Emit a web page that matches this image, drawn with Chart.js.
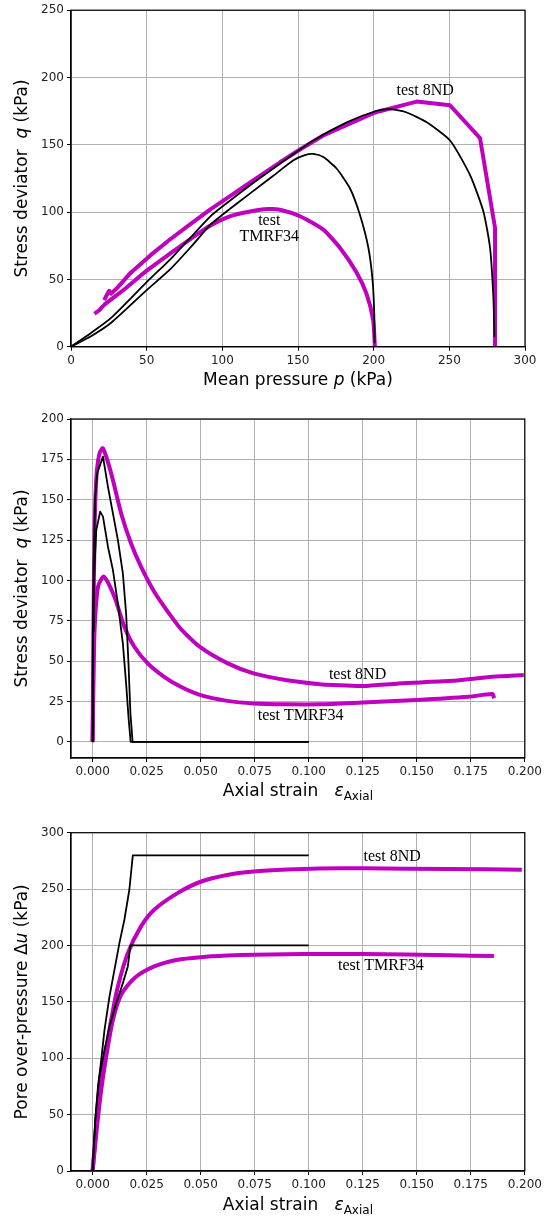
<!DOCTYPE html>
<html lang="en">
<head>
<meta charset="UTF-8">
<title>Undrained triaxial tests</title>
<script src="https://cdn.jsdelivr.net/npm/chart.js@4.4.0/dist/chart.umd.min.js"></script>
<style>
  body { margin: 0; background: #fff; }
  canvas { position: absolute; left: 0; }
</style>
</head>
<body>
<canvas id="c1" width="545" height="400" style="top:0px"></canvas>
<canvas id="c2" width="545" height="410" style="top:400px"></canvas>
<canvas id="c3" width="545" height="414" style="top:810px"></canvas>

<script>
// ---- panel 1 : q versus p ----
var pTicks = [0, 50, 100, 150, 200, 250, 300];
var qTicks1 = [0, 50, 100, 150, 200, 250];

var p8ndExp = [21.9, 23.5, 25.2, 26.5, 30, 39.5, 52.6, 65.8, 78.9, 92.1, 105.3, 118.4, 138.1, 151.3, 166.7, 200.9, 228.4, 250.4, 270.3, 280.2, 280.2];
var q8ndExp = [34.6, 38, 41.5, 39.5, 43, 55, 68, 80, 91, 102, 112, 122, 137, 146.5, 156.9, 174, 182.1, 179.4, 154.9, 88.2, 0];

var pTmrfExp = [15.4, 18, 21.9, 35.1, 50, 65.8, 78.9, 92.1, 105.3, 118.4, 130, 138.1, 151.3, 166.7, 177.7, 188.7, 195.3, 199.7, 200.8];
var qTmrfExp = [24.5, 26.5, 31, 42.5, 56.5, 69.5, 80, 90, 97, 100.5, 102.3, 101.8, 96.9, 87, 73.5, 55.1, 39.2, 19.6, 0];

var p8ndSim = [0, 13.2, 26.3, 50, 65.8, 78.9, 92.1, 100, 118.4, 138.1, 160.1, 182.2, 202.1, 210.9, 221.9, 235.1, 250.5, 263.7, 272.5, 276.9, 279.1, 279.8];
var q8ndSim = [0, 10.2, 21.2, 48, 65.1, 81, 96.8, 104.1, 120, 136, 153.2, 166.7, 175.3, 176.5, 174, 166.7, 153.2, 127.5, 100.5, 73.5, 36.7, 7.3];

var pTmrfSim = [0, 13.2, 26.3, 50, 65.8, 78.9, 92.1, 100, 118.4, 133.7, 147, 155, 160.1, 166.7, 175.5, 184.3, 190.9, 196.5, 199.3, 200.4, 200.6];
var qTmrfSim = [0, 7.8, 17.6, 42, 57.8, 73.7, 90.7, 98, 113.9, 127, 138.5, 142.5, 143.2, 140.9, 132.4, 117.7, 98, 73.5, 49, 24.5, 2.5];

// ---- panel 2 : q versus axial strain ----
var strainTicks = [0, 0.025, 0.05, 0.075, 0.1, 0.125, 0.15, 0.175, 0.2];
var qTicks2 = [0, 25, 50, 75, 100, 125, 150, 175, 200];

var e8ndExp = [0, 0.0004, 0.0009, 0.0018, 0.0032, 0.0048, 0.0086, 0.0132, 0.0178, 0.0224, 0.0285, 0.0362, 0.0408, 0.05, 0.0623, 0.0745, 0.0899, 0.1052, 0.1114, 0.125, 0.1418, 0.1659, 0.185, 0.1995];
var qe8ndExp = [0, 70, 131, 165, 178.7, 181.8, 166.3, 141.5, 122.9, 108.5, 93, 78, 70, 58.5, 48.8, 42.4, 38.2, 35.7, 35.2, 34.6, 36.2, 37.8, 40.3, 41.4];

var eTmrfExp = [0, 0.0003, 0.0009, 0.0025, 0.0052, 0.0101, 0.0147, 0.0193, 0.0255, 0.0331, 0.0408, 0.05, 0.0623, 0.0745, 0.0899, 0.105, 0.125, 0.15, 0.174, 0.185, 0.1858];
var qeTmrfExp = [0, 28, 69, 96, 102.3, 89.9, 71.3, 58.9, 48.6, 40.3, 34.1, 28.9, 25.4, 23.8, 23.3, 23.3, 24.4, 25.9, 27.9, 29.6, 27];

var e8ndSim = [0, 0.0001, 0.0005, 0.0012, 0.0021, 0.0048, 0.0071, 0.0094, 0.0117, 0.014, 0.0155, 0.0166, 0.0175, 0.0185, 0.1];
var qe8ndSim = [0, 69, 110.5, 151.9, 166.3, 176.7, 158, 141.5, 125, 104.3, 79.5, 48.6, 17.6, 0, 0];

var eTmrfSim = [0, 0.0002, 0.0006, 0.0017, 0.0035, 0.0048, 0.0071, 0.0094, 0.0117, 0.014, 0.0155, 0.0166, 0.0176, 0.1];
var qeTmrfSim = [0, 69, 100.2, 131.2, 142.6, 139.5, 120.9, 106.4, 85.7, 60.9, 36.2, 15.5, 0, 0];

// ---- panel 3 : pore over-pressure versus axial strain ----
var uTicks = [0, 50, 100, 150, 200, 250, 300];

var eu8ndExp = [0, 0.0015, 0.003, 0.0055, 0.0086, 0.0117, 0.0163, 0.0224, 0.0285, 0.0393, 0.05, 0.0623, 0.0745, 0.0899, 0.105, 0.125, 0.165, 0.1986];
var u8ndExp = [0, 35, 68, 98.5, 134, 163.6, 193.2, 216.9, 231.7, 246.4, 256.5, 262.5, 265.5, 267.3, 268.2, 268.4, 267.8, 267.2];

var euTmrfExp = [0, 0.0018, 0.004, 0.0063, 0.0094, 0.0132, 0.0193, 0.0285, 0.0393, 0.05, 0.0623, 0.0745, 0.0899, 0.105, 0.125, 0.165, 0.1857];
var uTmrfExp = [0, 35, 72, 101.5, 134, 156.2, 171, 181.4, 187.3, 189.6, 191, 191.8, 192.3, 192.4, 192.4, 191.3, 190.6];

var eu8ndSim = [0, 0.0012, 0.0025, 0.004, 0.0055, 0.0078, 0.0101, 0.0124, 0.0147, 0.017, 0.0186, 0.1];
var u8ndSim = [0, 45, 75, 98.5, 125.1, 154.7, 178.4, 202.1, 222.8, 249.4, 279.9, 279.9];

var euTmrfSim = [0, 0.0012, 0.003, 0.0055, 0.0078, 0.0109, 0.014, 0.0163, 0.0175, 0.1];
var uTmrfSim = [0, 45, 82, 107.4, 128.1, 148.8, 166.6, 181.4, 200, 200];

// text labels placed in data coordinates
var notes1 = [["test 8ND", 234, 190], ["test", 131, 93.7], ["TMRF34", 131, 81.4]];
var notes2 = [["test 8ND", 0.1226, 41.4], ["test TMRF34", 0.0963, 15.9]];
var notes3 = [["test 8ND", 0.1386, 278.6], ["test TMRF34", 0.1334, 181.7]];

var MAGENTA = '#bf00bf';
var SANS = '"DejaVu Sans", sans-serif';
var TF = '17px ' + SANS, TFI = 'italic 17px ' + SANS, SUB = '12px ' + SANS;

var titleStrain = [["Axial strain   ", TF], ["\u03b5", TFI], ["Axial", SUB, 5]];
var titles = {
  c1: { x: [["Mean pressure ", TF], ["p", TFI], [" (kPa)", TF]],
        y: [["Stress deviator  ", TF], ["q", TFI], [" (kPa)", TF]] },
  c2: { x: titleStrain,
        y: [["Stress deviator  ", TF], ["q", TFI], [" (kPa)", TF]] },
  c3: { x: titleStrain,
        y: [["Pore over-pressure ", TF], ["\u0394", TF], ["u", TFI], [" (kPa)", TF]] }
};

function pairs(xs, ys) {
  var out = [];
  for (var i = 0; i < xs.length; i++) out.push({ x: xs[i], y: ys[i] });
  return out;
}

function drawRich(ctx, parts, cx, cy, angle) {
  var total = 0, widths = [];
  parts.forEach(function (p) { ctx.font = p[1]; var w = ctx.measureText(p[0]).width; widths.push(w); total += w; });
  ctx.save();
  ctx.translate(cx, cy);
  ctx.rotate(angle);
  ctx.textBaseline = 'middle';
  ctx.textAlign = 'left';
  var x = -total / 2;
  parts.forEach(function (p, i) {
    ctx.font = p[1];
    ctx.fillText(p[0], x, p[2] || 0);
    x += widths[i];
  });
  ctx.restore();
}

var decor = {
  id: 'decor',
  afterDraw: function (chart, args, opts) {
    var ctx = chart.ctx, a = chart.chartArea;
    ctx.save();
    ctx.strokeStyle = '#000';
    ctx.lineWidth = 1.2;
    ctx.strokeRect(a.left, a.top, a.right - a.left, a.bottom - a.top);
    ctx.fillStyle = '#000';
    ctx.font = '16px "Liberation Serif", serif';
    ctx.textAlign = 'center';
    ctx.textBaseline = 'middle';
    opts.notes.forEach(function (n) {
      ctx.fillText(n[0], chart.scales.x.getPixelForValue(n[1]), chart.scales.y.getPixelForValue(n[2]));
    });
    drawRich(ctx, opts.titles.x, (a.left + a.right) / 2, a.bottom + opts.titleGap, 0);
    drawRich(ctx, opts.titles.y, 22.6, (a.top + a.bottom) / 2, -Math.PI / 2);
    ctx.restore();
  }
};

function line(data, color, width, tension) {
  return { data: data, borderColor: color, borderWidth: width, pointRadius: 0,
           showLine: true, fill: false, tension: tension, clip: 0,
           borderJoinStyle: 'round', borderCapStyle: 'butt' };
}

function makeChart(id, datasets, xr, yr, xTicks, yTicks, xFmt, padTop, xHeight, notes, titleGap) {
  var axisGrid = { color: '#b0b0b0', lineWidth: 1, tickColor: '#000', tickLength: 4 };
  return new Chart(document.getElementById(id), {
    type: 'scatter',
    data: { datasets: datasets },
    options: {
      responsive: false,
      animation: false,
      devicePixelRatio: 1,
      layout: { padding: { left: 0, right: 20, top: padTop, bottom: 0 } },
      plugins: {
        legend: { display: false },
        tooltip: { enabled: false },
        decor: { notes: notes, titles: titles[id], titleGap: titleGap }
      },
      scales: {
        x: {
          type: 'linear', min: xr[0], max: xr[1],
          grid: axisGrid,
          border: { display: true, color: '#000', width: 1.2 },
          ticks: { color: '#222', font: { family: SANS, size: 12 }, padding: 3, maxRotation: 0,
                   callback: xFmt },
          afterBuildTicks: function (s) { s.ticks = xTicks.map(function (v) { return { value: v }; }); },
          afterFit: function (s) { s.height = xHeight; }
        },
        y: {
          type: 'linear', min: yr[0], max: yr[1],
          grid: axisGrid,
          border: { display: true, color: '#000', width: 1.2 },
          ticks: { color: '#222', font: { family: SANS, size: 12 }, padding: 3,
                   callback: function (v) { return String(v); } },
          afterBuildTicks: function (s) { s.ticks = yTicks.map(function (v) { return { value: v }; }); },
          afterFit: function (s) { s.width = 71; }
        }
      }
    },
    plugins: [decor]
  });
}

var fmt3 = function (v) { return v.toFixed(3); };
var fmt0 = function (v) { return String(v); };

makeChart('c1', [
  line(pairs(p8ndSim, q8ndSim), '#000', 1.8, 0.2),
  line(pairs(pTmrfSim, qTmrfSim), '#000', 1.8, 0.2),
  line(pairs(p8ndExp, q8ndExp), MAGENTA, 4, 0),
  line(pairs(pTmrfExp, qTmrfExp), MAGENTA, 4, 0.2)
], [0, 300], [0, 250], pTicks, qTicks1, fmt0, 6.7, 53.3, notes1, 34);

makeChart('c2', [
  line(pairs(e8ndSim, qe8ndSim), '#000', 1.8, 0),
  line(pairs(eTmrfSim, qeTmrfSim), '#000', 1.8, 0),
  line(pairs(e8ndExp, qe8ndExp), MAGENTA, 4, 0.25),
  line(pairs(eTmrfExp, qeTmrfExp), MAGENTA, 4, 0.25)
], [-0.01, 0.2], [-10, 200], strainTicks, qTicks2, fmt3, 19, 52, notes2, 34);

makeChart('c3', [
  line(pairs(eu8ndSim, u8ndSim), '#000', 1.8, 0),
  line(pairs(euTmrfSim, uTmrfSim), '#000', 1.8, 0),
  line(pairs(eu8ndExp, u8ndExp), MAGENTA, 4, 0.25),
  line(pairs(euTmrfExp, uTmrfExp), MAGENTA, 4, 0.25)
], [-0.01, 0.2], [0, 300], strainTicks, uTicks, fmt3, 22.7, 53, notes3, 35);
</script>
</body>
</html>
